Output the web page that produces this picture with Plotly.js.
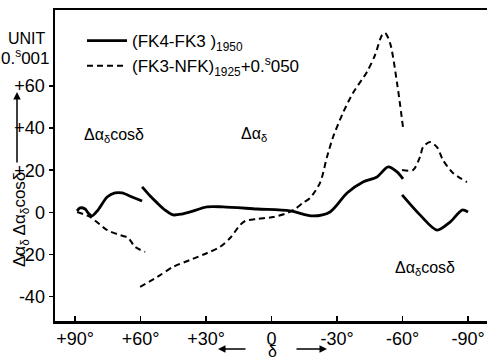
<!DOCTYPE html>
<html><head><meta charset="utf-8">
<script src="https://cdn.plot.ly/plotly-3.0.1.min.js"></script>
<style>html,body{margin:0;padding:0;background:#fff}#c{width:487px;height:361px}</style>
</head><body><div id="c"></div>
<script>
// Declination (deg) and values (unit 0.001 s)
const solidNorthDec = [89.1, 87.7, 85.4, 84.0, 82.2, 79.5, 75.3, 71.7, 68.5, 63.9, 59.3];
const solidNorthVal = [0.7, 2.1, 1.6, -0.3, -1.7, 1.1, 7.3, 9.2, 9.2, 7.3, 5.4];
const solidMidDec = [59.3, 55.6, 52.4, 48.8, 45.1, 41.0, 37.3, 29.5, 22.2, 6.6, -8.5, -19.0, -26.8, -34.6, -41.9, -48.3, -53.4, -57.5, -60.2];
const solidMidVal = [12.1, 7.8, 4.5, 1.1, -1.2, -0.8, 0.2, 2.6, 2.6, 1.6, 0.7, -1.7, 0.2, 9.2, 14.4, 16.8, 21.6, 19.2, 15.9];
const solidSouthDec = [-59.8, -68.0, -75.8, -81.8, -87.3, -90.0];
const solidSouthVal = [8.3, -1.2, -8.4, -4.6, 1.1, 0.2];

const dashNorthDec = [89.1, 83.1, 75.3, 69.4, 65.7, 62.5, 57.9];
const dashNorthVal = [0.2, -2.2, -8.4, -10.8, -12.1, -16.4, -18.8];
const dashMidDec = [60.2, 52.4, 45.1, 37.3, 29.5, 23.6, 19.0, 14.4, 12.1, 6.6, -0.9, -7.3, -10.8, -14.4, -17.6, -22.2, -25.4, -28.2, -32.7, -37.3, -43.7, -47.4, -50.6, -52.0, -54.3, -57.5, -60.2];
const dashMidVal = [-35.4, -30.7, -25.9, -22.6, -19.3, -16.4, -12.2, -6.0, -4.1, -3.1, -2.2, -0.3, 1.6, 4.5, 6.8, 14.0, 26.3, 35.8, 47.2, 56.7, 66.7, 74.7, 84.2, 85.2, 80.4, 61.4, 40.6];
const dashSouthDec = [-59.8, -64.8, -68.0, -69.4, -72.6, -75.8, -78.5, -83.1, -89.5];
const dashSouthVal = [20.1, 20.1, 26.3, 31.0, 33.4, 31.0, 24.9, 18.7, 14.4];

const xTickVals = [90, 60, 30, 0, -30, -60, -90];
const xTickText = ['+90°', '+60°', '+30°', '0', '-30°', '-60°', '-90°'];
const yTickVals = [60, 40, 20, 0, -20, -40];
const yTickText = ['+60', '+40', '+20', '0', '-20', '-40'];

const seriesNames = ['(FK4-FK3 )<sub>1950</sub>', '(FK3-NFK)<sub>1925</sub>+0.<sup>s</sup>050'];

function join(parts){ let out=[]; parts.forEach((p,i)=>{ if(i) out.push(null); out = out.concat(p); }); return out; }

const F = 'Liberation Sans, Arial, sans-serif';
const traces = [
  {x: join([solidNorthDec, solidMidDec, solidSouthDec]), y: join([solidNorthVal, solidMidVal, solidSouthVal]),
   mode:'lines', name: seriesNames[0], line:{color:'#000', width:2.8, shape:'spline', smoothing:0.8}, connectgaps:false},
  {x: join([dashNorthDec, dashMidDec, dashSouthDec]), y: join([dashNorthVal, dashMidVal, dashSouthVal]),
   mode:'lines', name: seriesNames[1], line:{color:'#000', width:2, dash:'6px,4px', shape:'spline', smoothing:0.8}, connectgaps:false}
];

function px(x){ return (x-55)/432; }
function py(y){ return (321-y)/311; }
function ann(x, y, text, size, extra){ return Object.assign({xref:'paper', yref:'paper', x:px(x), y:py(y), xanchor:'center', yanchor:'middle', text:text, showarrow:false, font:{size:size}}, extra||{}); }
function arrow(x, y, ax, ay){ return {xref:'paper', yref:'paper', x:px(x), y:py(y), ax:ax, ay:ay, text:'', showarrow:true, arrowhead:2, arrowsize:1, arrowwidth:1.5, arrowcolor:'#000'}; }

const layout = {
  width:487, height:361,
  margin:{l:55, r:0, t:10, b:40},
  paper_bgcolor:'#fff', plot_bgcolor:'#fff',
  font:{family:F, color:'#000', size:16},
  showlegend:true,
  legend:{x:px(82), y:py(23), xanchor:'left', yanchor:'top', bgcolor:'rgba(0,0,0,0)', font:{size:17, family:F}, itemwidth:40, tracegroupgap:0},
  xaxis:{range:[99.2, -98.7], tickvals:xTickVals, ticktext:xTickText, ticks:'inside', ticklen:5, tickwidth:1.5, tickcolor:'#000',
         showline:true, linewidth:2.5, linecolor:'#000', mirror:true, showgrid:false, zeroline:false, tickfont:{size:18, family:F}},
  yaxis:{range:[-51.6, 96.1], tickvals:yTickVals, ticktext:yTickText, ticks:'outside', ticklen:4, tickwidth:1.5, tickcolor:'#000',
         showline:true, linewidth:2.5, linecolor:'#000', showgrid:false, zeroline:false, tickfont:{size:18, family:F}},
  annotations:[
    ann(27, 38, 'UNIT', 16),
    ann(26, 57, '0.<sup>s</sup>001', 17),
    ann(21, 220, 'Δα<sub>δ</sub> Δα<sub>δ</sub>cosδ', 17, {textangle:-90}),
    arrow(17, 92, 0, 72),
    ann(114, 135, 'Δα<sub>δ</sub>cosδ', 16),
    ann(254, 134, 'Δα<sub>δ</sub>', 16),
    ann(425, 268, 'Δα<sub>δ</sub>cosδ', 16),
    ann(272, 361, 'δ', 16, {yanchor:'bottom', borderpad:0}),
    arrow(218, 349, 29, 0),
    arrow(327, 349, -32, 0)
  ]
};
Plotly.newPlot('c', traces, layout, {displayModeBar:false, staticPlot:true});
</script></body></html>
